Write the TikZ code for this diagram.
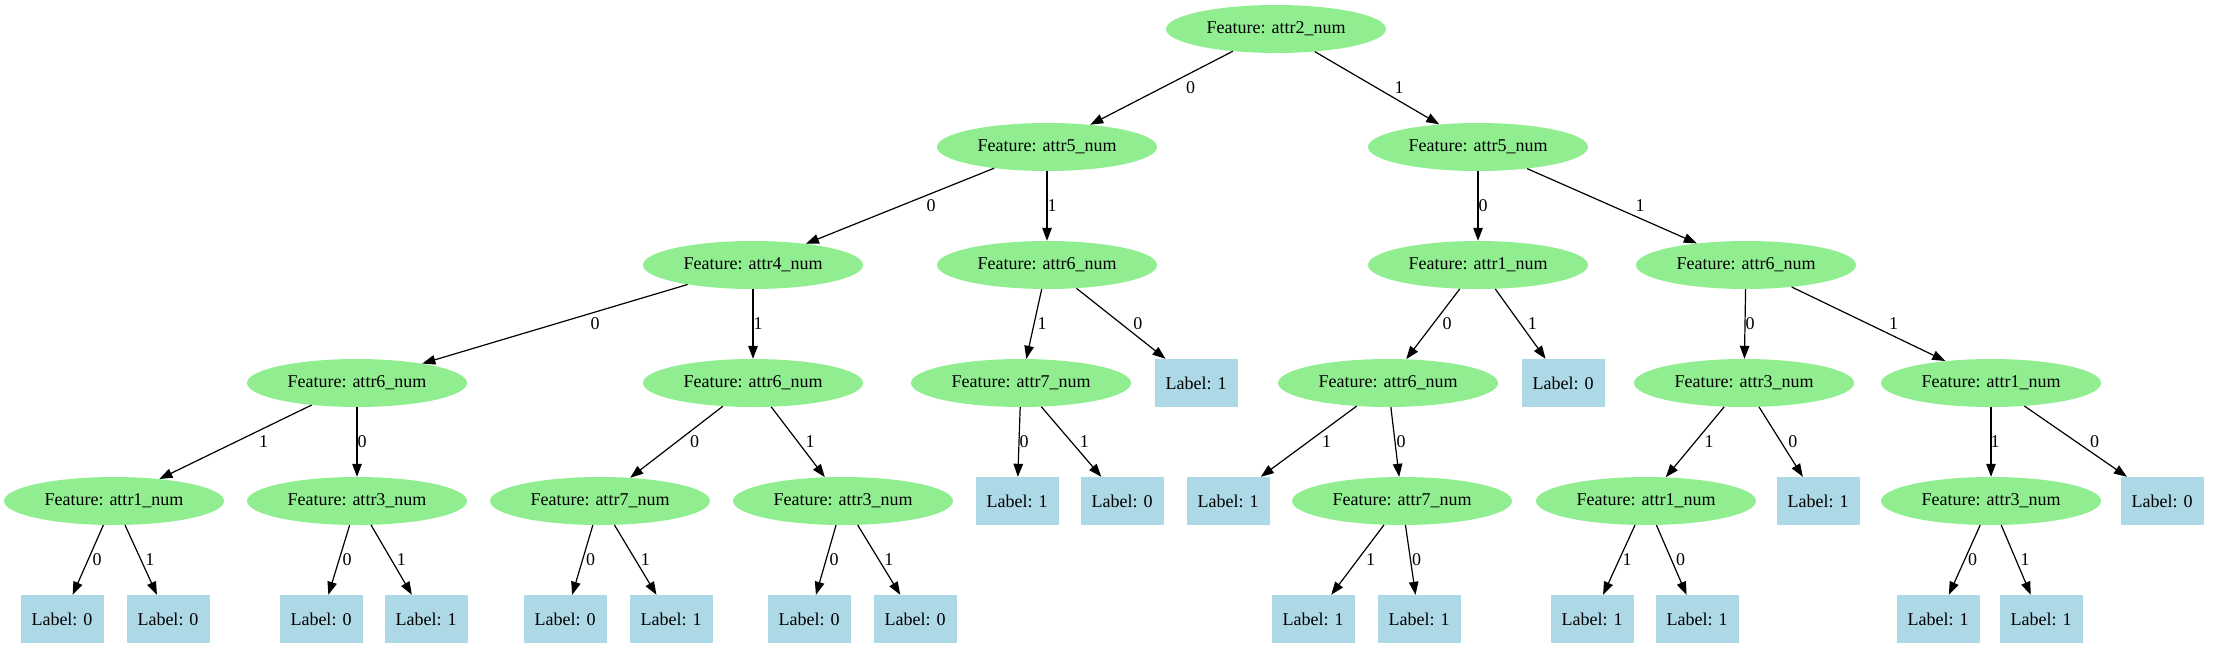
\documentclass[tikz,border=0pt]{standalone}
\usepackage{fontspec}
\setmainfont{Liberation Serif}
\usetikzlibrary{arrows.meta,shapes.geometric}
\definecolor{featfill}{HTML}{90EE90}
\definecolor{leaffill}{HTML}{ADD8E6}
\newcommand\treeedge[4]{\draw[treeline] (#1) -- node[elab, pos=.5, xshift=#4pt]{#3} (#2);}
\begin{document}
\begin{tikzpicture}[x=1pt,y=-1pt,
  feat/.style={ellipse, fill=featfill, minimum width=220pt, minimum height=48pt, inner sep=0pt, font=\fontsize{18}{21}\selectfont},
  leaf/.style={rectangle, fill=leaffill, minimum width=83pt, minimum height=48pt, inner sep=0pt, font=\fontsize{18}{21}\selectfont},
  treeline/.style={-{Triangle[length=13pt,width=9.5pt]}, line width=1.2pt, black},
  elab/.style={font=\fontsize{18}{21}\selectfont, inner sep=0pt}]
\useasboundingbox (0,0) rectangle (2215,649);
% row 0
\node[feat] (r) at (1276,29) {Feature: attr2\_num};
% row 1
\node[feat] (a) at (1047,147) {Feature: attr5\_num};
\node[feat] (b) at (1478,147) {Feature: attr5\_num};
% row 2
\node[feat] (c) at (753,265) {Feature: attr4\_num};
\node[feat] (d) at (1047,265) {Feature: attr6\_num};
\node[feat] (e) at (1478,265) {Feature: attr1\_num};
\node[feat] (f) at (1746,265) {Feature: attr6\_num};
% row 3
\node[feat] (g) at (357,383) {Feature: attr6\_num};
\node[feat] (h) at (753,383) {Feature: attr6\_num};
\node[feat] (i) at (1021,383) {Feature: attr7\_num};
\node[leaf] (j) at (1196,383) {Label: 1};
\node[feat] (k) at (1388,383) {Feature: attr6\_num};
\node[leaf] (l) at (1563,383) {Label: 0};
\node[feat] (m) at (1744,383) {Feature: attr3\_num};
\node[feat] (n) at (1991,383) {Feature: attr1\_num};
% row 4
\node[feat] (o) at (114,501) {Feature: attr1\_num};
\node[feat] (p) at (357,501) {Feature: attr3\_num};
\node[feat] (q) at (600,501) {Feature: attr7\_num};
\node[feat] (s) at (843,501) {Feature: attr3\_num};
\node[leaf] (t) at (1017,501) {Label: 1};
\node[leaf] (u) at (1122,501) {Label: 0};
\node[leaf] (v) at (1228,501) {Label: 1};
\node[feat] (w) at (1402,501) {Feature: attr7\_num};
\node[feat] (x) at (1646,501) {Feature: attr1\_num};
\node[leaf] (y) at (1818,501) {Label: 1};
\node[feat] (z) at (1991,501) {Feature: attr3\_num};
\node[leaf] (aa) at (2162,501) {Label: 0};
% row 5
\node[leaf] (o0) at (62,619) {Label: 0};
\node[leaf] (o1) at (168,619) {Label: 0};
\node[leaf] (p0) at (321,619) {Label: 0};
\node[leaf] (p1) at (426,619) {Label: 1};
\node[leaf] (q0) at (565,619) {Label: 0};
\node[leaf] (q1) at (671,619) {Label: 1};
\node[leaf] (s0) at (809,619) {Label: 0};
\node[leaf] (s1) at (915,619) {Label: 0};
\node[leaf] (w1) at (1313,619) {Label: 1};
\node[leaf] (w0) at (1419,619) {Label: 1};
\node[leaf] (x1) at (1592,619) {Label: 1};
\node[leaf] (x0) at (1697,619) {Label: 1};
\node[leaf] (z0) at (1938,619) {Label: 1};
\node[leaf] (z1) at (2041,619) {Label: 1};
% edges
\treeedge{r}{a}{0}{29}
\treeedge{r}{b}{1}{22}
\treeedge{a}{c}{0}{31}
\treeedge{a}{d}{1}{5}
\treeedge{b}{e}{0}{5}
\treeedge{b}{f}{1}{28}
\treeedge{c}{g}{0}{40}
\treeedge{c}{h}{1}{5}
\treeedge{d}{i}{1}{8}
\treeedge{d}{j}{0}{17}
\treeedge{e}{k}{0}{14}
\treeedge{e}{l}{1}{12}
\treeedge{f}{m}{0}{5}
\treeedge{f}{n}{1}{25}
\treeedge{g}{o}{1}{28}
\treeedge{g}{p}{0}{5}
\treeedge{h}{q}{0}{18}
\treeedge{h}{s}{1}{12}
\treeedge{i}{t}{0}{5}
\treeedge{i}{u}{1}{13}
\treeedge{k}{v}{1}{18}
\treeedge{k}{w}{0}{6}
\treeedge{m}{x}{1}{14}
\treeedge{m}{y}{0}{12}
\treeedge{n}{z}{1}{4}
\treeedge{n}{aa}{0}{19}
\treeedge{o}{o0}{0}{9}
\treeedge{o}{o1}{1}{9}
\treeedge{p}{p0}{0}{8}
\treeedge{p}{p1}{1}{10}
\treeedge{q}{q0}{0}{8}
\treeedge{q}{q1}{1}{10}
\treeedge{s}{s0}{0}{8}
\treeedge{s}{s1}{1}{10}
\treeedge{w}{w1}{1}{13}
\treeedge{w}{w0}{0}{6}
\treeedge{x}{x1}{1}{8}
\treeedge{x}{x0}{0}{9}
\treeedge{z}{z0}{0}{8}
\treeedge{z}{z1}{1}{9}
\end{tikzpicture}
\end{document}
